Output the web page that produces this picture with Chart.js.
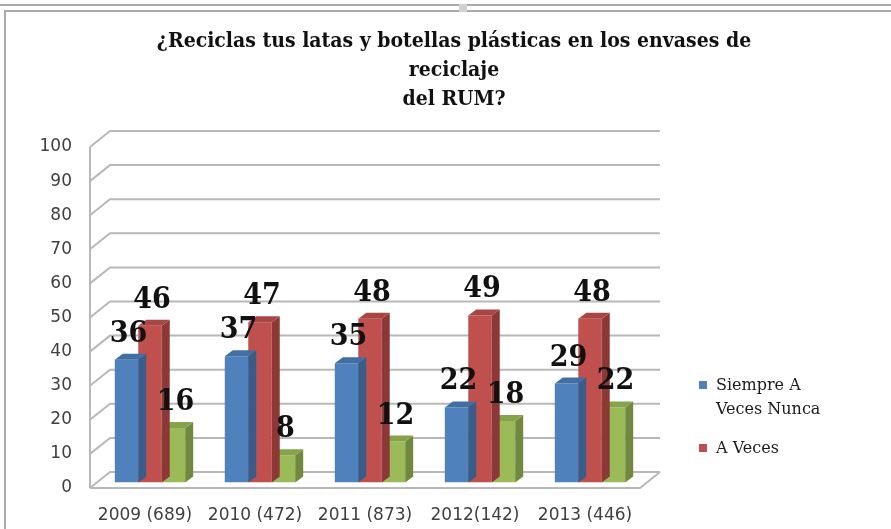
<!DOCTYPE html>
<html>
<head>
<meta charset="utf-8">
<script src="https://cdn.jsdelivr.net/npm/chart.js@4"></script>
<style>
  body { margin: 0; background: #fff; }
  #wrap { position: relative; width: 891px; height: 529px; overflow: hidden; }
  #frameTop { position: absolute; left: 0; top: 4px; width: 891px; border-top: 2px solid #a9a9a9; }
  #frame { position: absolute; left: 4px; top: 10px; width: 900px; height: 540px; border-top: 2px solid #a9a9a9; border-left: 2px solid #a9a9a9; }
  #notch { position: absolute; left: 459px; top: 4px; width: 8px; height: 8px; background: #d0d0d0; }
  #legend { position: absolute; left: 698px; top: 373px; width: 145px; font-family: "DejaVu Serif", serif; font-size: 16px; color: #1a1a1a; }
  .item { position: relative; padding-left: 18px; line-height: 24px; margin-bottom: 15px; }
  .box { position: absolute; left: 1px; top: 8px; width: 8px; height: 8px; }
  canvas { position: absolute; left: 0; top: 0; }
</style>
</head>
<body>
<div id="wrap">
  <div id="frameTop"></div>
  <div id="frame"></div>
  <div id="notch"></div>
  <canvas id="myChart" width="891" height="529"></canvas>
  <div id="legend"></div>
</div>
<script>
// Data
const categories = ['2009 (689)', '2010 (472)', '2011 (873)', '2012(142)', '2013 (446)'];
const siempre = [36, 37, 35, 22, 29];
const aVeces = [46, 47, 48, 49, 48];
const nunca = [16, 8, 12, 18, 22];
const seriesNames = ['Siempre A Veces Nunca', 'A Veces', 'Nunca'];
const titleLines = ['¿Reciclas tus latas y botellas plásticas en los envases de', 'reciclaje', 'del RUM?'];

const faceColors = ['#4f81bd', '#c0504d', '#9bbb59'];
const sideColors = ['#385d8a', '#8c3836', '#71893f'];
const topColors = ['#426ea3', '#a94644', '#86a34c'];

// 3D look: wall depth and bar depth
const WALL_DX = 20, WALL_DY = -16;
const BAR_DX = 8, BAR_DY = -6;
const SHIFT_X = 5, SHIFT_Y = -5.5;

// title centred on the whole canvas (the chart area leaves room for the legend)
const titlePlugin = {
  id: 'titlePlugin',
  afterDraw(chart) {
    const ctx = chart.ctx;
    ctx.save();
    ctx.font = 'bold 21px "DejaVu Serif Condensed", "DejaVu Serif", serif';
    ctx.fillStyle = '#111';
    ctx.textAlign = 'center';
    ctx.textBaseline = 'middle';
    titleLines.forEach((line, i) => {
      ctx.fillText(line, 454, 42 + i * 29);
    });
    ctx.restore();
  }
};

const threeD = {
  id: 'threeD',
  beforeDatasetsDraw(chart) {
    const ctx = chart.ctx;
    const area = chart.chartArea;
    const y = chart.scales.y;
    ctx.save();
    ctx.strokeStyle = '#b8b8b8';
    ctx.lineWidth = 2;
    // floor
    ctx.beginPath();
    ctx.moveTo(area.left, area.bottom);
    ctx.lineTo(area.right, area.bottom);
    ctx.lineTo(area.right + WALL_DX, area.bottom + WALL_DY);
    ctx.stroke();
    // left edge
    ctx.beginPath();
    ctx.moveTo(area.left, area.top);
    ctx.lineTo(area.left, area.bottom);
    ctx.stroke();
    // grid lines on side and back wall
    y.ticks.forEach(t => {
      const py = y.getPixelForValue(t.value);
      ctx.beginPath();
      ctx.moveTo(area.left, py);
      ctx.lineTo(area.left + WALL_DX, py + WALL_DY);
      ctx.lineTo(area.right + WALL_DX, py + WALL_DY);
      ctx.stroke();
    });
    ctx.restore();
    ctx.save();
    ctx.translate(SHIFT_X, SHIFT_Y);
  },
  afterDatasetDraw(chart, args) {
    const ctx = chart.ctx;
    const i = args.index;
    chart.getDatasetMeta(i).data.forEach(bar => {
      const x0 = bar.x - bar.width / 2;
      const x1 = bar.x + bar.width / 2;
      // side face
      ctx.fillStyle = sideColors[i];
      ctx.beginPath();
      ctx.moveTo(x1, bar.base);
      ctx.lineTo(x1 + BAR_DX, bar.base + BAR_DY);
      ctx.lineTo(x1 + BAR_DX, bar.y + BAR_DY);
      ctx.lineTo(x1, bar.y);
      ctx.closePath();
      ctx.fill();
      // top face
      ctx.fillStyle = topColors[i];
      ctx.beginPath();
      ctx.moveTo(x0, bar.y);
      ctx.lineTo(x1, bar.y);
      ctx.lineTo(x1 + BAR_DX, bar.y + BAR_DY);
      ctx.lineTo(x0 + BAR_DX, bar.y + BAR_DY);
      ctx.closePath();
      ctx.fill();
    });
  },
  afterDatasetsDraw(chart) {
    const ctx = chart.ctx;
    // value labels
    ctx.font = 'bold 30px "DejaVu Serif Condensed", "DejaVu Serif", serif';
    ctx.fillStyle = '#111';
    ctx.textAlign = 'center';
    ctx.textBaseline = 'alphabetic';
    chart.data.datasets.forEach((ds, i) => {
      chart.getDatasetMeta(i).data.forEach((bar, j) => {
        ctx.fillText(String(ds.data[j]), bar.x + 2, bar.y - 18);
      });
    });
    ctx.restore();
  }
};

const canvas = document.getElementById('myChart');
const chart = new Chart(canvas, {
  type: 'bar',
  data: {
    labels: categories,
    datasets: [
      { label: seriesNames[0], data: siempre, backgroundColor: faceColors[0] },
      { label: seriesNames[1], data: aVeces, backgroundColor: faceColors[1] },
      { label: seriesNames[2], data: nunca, backgroundColor: faceColors[2] }
    ]
  },
  options: {
    responsive: false,
    animation: false,
    layout: { padding: { left: 0, right: 251, top: 147, bottom: 0 } },
    datasets: { bar: { categoryPercentage: 0.64, barPercentage: 1 } },
    plugins: {
      legend: { display: false },
      tooltip: { enabled: false },
      title: { display: false }
    },
    scales: {
      x: {
        grid: { display: false, drawTicks: false },
        border: { display: false },
        ticks: { color: '#404040', padding: 17, font: { family: '"DejaVu Sans", sans-serif', size: 17 } },
        afterFit(scale) { scale.height = 41; }
      },
      y: {
        min: 0,
        max: 100,
        grid: { display: false, drawTicks: false },
        border: { display: false },
        ticks: { stepSize: 10, color: '#404040', padding: 18, font: { family: '"DejaVu Sans", sans-serif', size: 17 } },
        afterFit(scale) { scale.width = 90; }
      }
    }
  },
  plugins: [threeD, titlePlugin]
});

// Legend (the last series has no entry in the original)
const legend = document.getElementById('legend');
chart.data.datasets.slice(0, 2).forEach(ds => {
  const item = document.createElement('div');
  item.className = 'item';
  item.style.width = '110px';
  const box = document.createElement('span');
  box.className = 'box';
  box.style.background = ds.backgroundColor;
  item.appendChild(box);
  item.appendChild(document.createTextNode(ds.label));
  legend.appendChild(item);
});
</script>
</body>
</html>
